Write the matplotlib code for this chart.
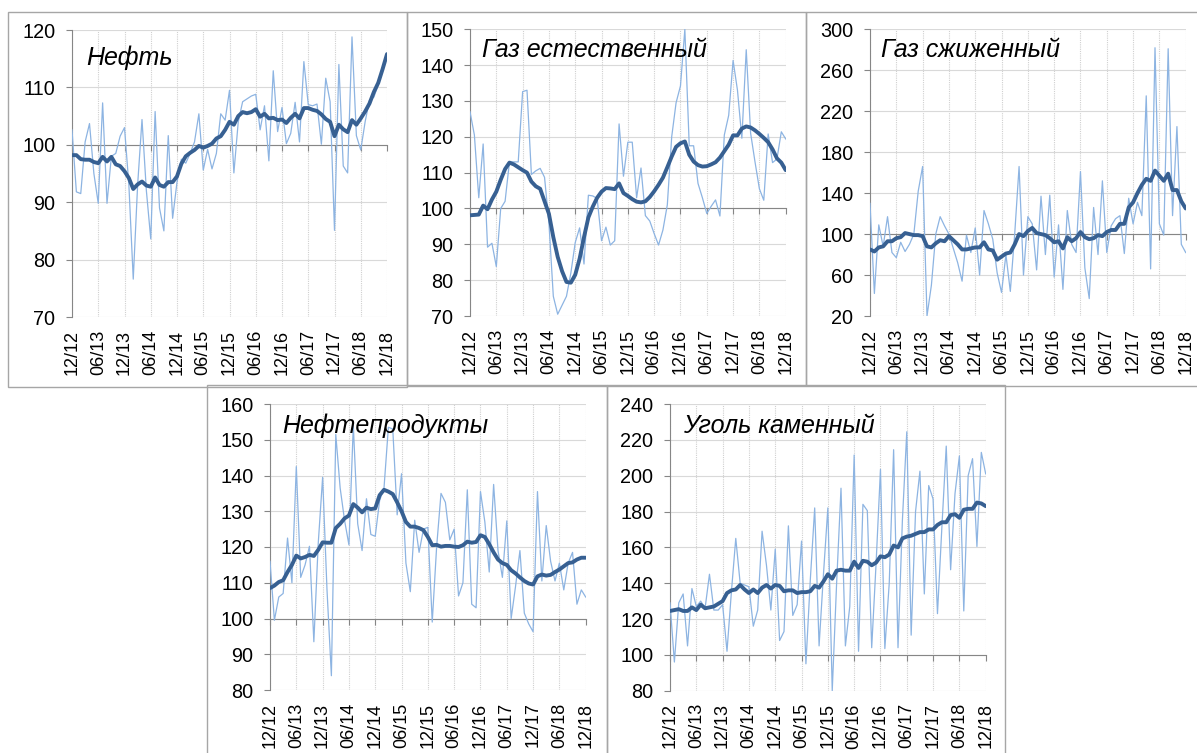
import matplotlib
matplotlib.use("Agg")
import matplotlib.pyplot as plt
from matplotlib.patches import Rectangle

plt.rcParams['font.family'] = ['Liberation Sans', 'DejaVu Sans']

W, H = 1197, 753

# ось X: помесячно с 12/2012 по 12/2018
months = list(range(73))
tick_pos = list(range(0, 73, 6))
tick_labels = ["12/12", "06/13", "12/13", "06/14", "12/14", "06/15", "12/15",
               "06/16", "12/16", "06/17", "12/17", "06/18", "12/18"]

# Нефть
neft_raw = [102.6, 91.8, 91.5, 100.5, 103.7, 95.0, 89.8, 107.3, 89.8, 98.0,
            98.5, 101.5, 103.0, 93.0, 76.6, 93.0, 104.4, 92.0, 83.6, 105.8,
            89.0, 85.0, 101.6, 87.2, 93.5, 97.5, 96.8, 98.5, 100.5, 105.4,
            95.6, 99.2, 95.8, 98.5, 105.4, 104.3, 109.5, 95.1, 104.0, 107.5,
            108.0, 108.5, 108.8, 102.6, 106.8, 97.2, 112.9, 102.3, 106.5, 100.2,
            102.0, 107.4, 100.5, 114.5, 107.0, 106.8, 107.1, 100.1, 111.6, 107.5,
            85.1, 114.0, 96.3, 95.1, 118.8, 101.6, 99.1, 104.0, 107.8, 108.3,
            110.5, 113.0, 115.8]
neft_trend = [98.2, 98.2, 97.5, 97.4, 97.4, 97.0, 96.8, 97.9, 97.1, 97.9,
              96.6, 96.3, 95.4, 94.2, 92.3, 93.1, 93.6, 92.9, 92.7, 94.3,
              93.0, 92.7, 93.5, 93.5, 94.5, 96.7, 98.0, 98.6, 99.1, 99.8,
              99.5, 99.8, 100.2, 101.1, 101.5, 102.6, 104.0, 103.5, 105.0, 105.7,
              105.5, 105.7, 106.2, 104.9, 105.4, 104.6, 104.7, 104.3, 104.4, 103.8,
              104.7, 105.4, 104.6, 106.4, 106.4, 106.1, 105.9, 105.3, 104.5, 104.0,
              101.5, 103.5, 102.7, 102.2, 104.3, 103.5, 104.6, 105.8, 107.2, 109.2,
              110.8, 113.2, 115.8]

# Газ естественный
gas_raw = [127.0, 120.5, 103.0, 118.0, 89.2, 90.3, 83.8, 100.0, 102.0, 113.0,
           113.0, 113.0, 132.6, 133.0, 109.5, 110.5, 111.2, 108.7, 96.0, 75.5,
           70.5, 73.0, 75.5, 82.0, 90.5, 94.6, 84.5, 103.7, 103.5, 102.8,
           91.0, 94.8, 89.8, 91.0, 123.6, 109.0, 118.5, 118.5, 103.0, 111.3,
           98.0, 96.5, 93.0, 89.8, 94.0, 101.0, 120.0, 129.5, 134.2, 150.0,
           117.5, 117.5, 107.0, 103.0, 98.6, 100.6, 102.4, 97.9, 120.5, 126.0,
           141.3, 133.0, 119.6, 144.3, 121.0, 113.0, 105.5, 102.3, 120.8, 112.8,
           113.8, 121.4, 119.4]
gas_trend = [98.1, 98.2, 98.3, 100.8, 99.8, 102.5, 104.7, 108.0, 111.0, 112.8,
             112.3, 111.5, 110.7, 110.0, 107.5, 106.2, 105.5, 102.0, 98.5, 92.0,
             86.5, 82.5, 79.5, 79.3, 81.5, 86.0, 92.0, 97.5, 100.5, 103.0,
             104.7, 105.7, 105.6, 105.4, 107.0, 104.3, 103.5, 102.6, 101.9, 101.7,
             102.0, 103.2, 104.8, 106.6, 108.6, 111.5, 114.5, 117.2, 118.2, 118.7,
             115.0, 113.1, 112.1, 111.7, 111.8, 112.3, 112.9, 114.2, 116.0, 117.8,
             120.4, 120.4, 122.3, 122.9, 122.6, 121.8, 120.8, 119.7, 118.5, 116.5,
             114.0, 112.8, 110.7]

# Газ сжиженный
lng_raw = [130, 42, 109, 88, 117, 82, 77, 92, 83, 90,
           100, 142, 166, 20, 50, 100, 117, 108, 100, 86,
           72, 54, 99, 82, 106, 60, 123, 110, 95, 62,
           43, 80, 44, 100, 166, 60, 117, 110, 65, 137,
           80, 138, 58, 109, 46, 123, 90, 82, 161, 67,
           37, 126, 80, 152, 82, 108, 115, 118, 81, 135,
           110, 131, 118, 235, 66, 282, 110, 99, 281, 118,
           205, 90, 82]
lng_trend = [85, 83, 87, 88, 93, 93, 96, 97, 101, 100,
             99, 99, 98, 88, 87, 91, 94, 93, 98, 94,
             90, 85, 85, 86, 87, 87, 92, 85, 84, 75,
             78, 81, 82, 90, 100, 98, 103, 106, 101, 100,
             99, 96, 92, 93, 86, 97, 93, 96, 102, 97,
             95, 96, 99, 98, 102, 104, 104, 110, 110, 126,
             131, 140, 148, 154, 152, 162, 157, 152, 159, 143,
             143, 132, 125]

# Нефтепродукты
oilprod_raw = [116.0, 99.5, 106.0, 107.0, 122.5, 110.0, 142.5, 111.5, 115.0, 120.2,
               93.5, 121.0, 139.5, 108.0, 84.0, 151.5, 136.5, 127.5, 120.6, 154.0,
               126.5, 119.0, 133.5, 123.5, 123.0, 133.0, 136.5, 153.5, 153.0, 129.0,
               140.5, 115.5, 107.5, 127.5, 118.5, 125.0, 125.5, 99.0, 120.0, 135.0,
               132.5, 122.0, 125.0, 106.3, 110.0, 136.0, 104.0, 103.0, 135.5, 127.0,
               113.0, 137.5, 119.0, 111.5, 127.3, 100.0, 109.0, 119.0, 101.5, 98.5,
               96.3, 135.5, 110.5, 126.0, 116.0, 110.5, 115.5, 108.0, 115.5, 118.5,
               104.0, 108.0, 106.0]
oilprod_trend = [108.5, 109.2, 110.2, 110.7, 113.0, 115.0, 117.6, 116.8, 117.2, 117.8,
                 117.5, 119.2, 121.3, 121.2, 121.2, 125.3, 126.5, 128.0, 128.8, 132.0,
                 131.0, 129.7, 131.0, 130.6, 130.8, 134.5, 136.0, 135.5, 134.8, 132.5,
                 130.0, 127.0, 125.7, 125.7, 125.3, 124.7, 122.8, 120.5, 120.6, 120.1,
                 120.3, 120.3, 120.1, 120.0, 120.5, 121.5, 121.2, 121.4, 123.3, 122.8,
                 120.8, 118.5, 116.5, 115.5, 115.0, 113.5, 112.6, 111.5, 110.5, 109.8,
                 109.5, 111.8, 112.3, 112.0, 112.2, 113.0, 113.7, 114.6, 115.5, 115.7,
                 116.5, 117.0, 117.0]

# Уголь каменный
coal_raw = [129, 96, 129, 134, 105, 137, 127, 130, 126, 145,
            125, 125, 128, 102, 135, 165, 140, 139, 138, 116,
            125, 169, 150, 125, 159, 108, 113, 172, 122, 128,
            163.5, 95, 142, 182, 105, 145, 182, 80, 140, 193,
            105, 127, 211.5, 102, 184, 180.5, 104, 151, 203.5, 103.5,
            140, 214.5, 104, 175, 224.5, 111, 180, 202.5, 134, 194.5,
            187, 123, 171, 216.5, 147.5, 190, 211, 124.5, 200, 209.5,
            160.5, 213, 201]
coal_trend = [124.5, 125.0, 125.5, 124.5, 124.5, 126.5, 125.0, 128.0, 126.0, 126.5,
              127.0, 128.5, 130.0, 134.5, 136.0, 136.5, 139.0, 136.5, 134.5, 136.5,
              134.5, 137.5, 139.0, 137.0, 139.0, 138.5, 135.5, 136.0, 136.0, 134.5,
              135.0, 135.0, 135.5, 138.5, 137.5, 141.0, 145.0, 142.5, 147.0, 147.5,
              147.0, 147.0, 152.0, 148.5, 152.5, 152.0, 150.0, 151.5, 155.0, 154.5,
              156.0, 161.0, 160.0, 165.0, 166.0, 166.5, 167.5, 168.5, 168.5, 170.0,
              170.0, 172.5, 174.0, 174.0, 178.0, 178.5, 176.5, 181.0, 181.5, 181.5,
              185.0, 184.5, 183.0]

# (название, факт, тренд, yticks, область графика px, подпись px, рамка px)
panels = [
    ("Нефть", neft_raw, neft_trend, range(70, 121, 10),
     (72, 387, 30, 317), (86, 65), (8, 407, 12, 387)),
    ("Газ естественный", gas_raw, gas_trend, range(70, 151, 10),
     (470, 785.7, 29.3, 316), (482, 57), (407, 806, 12, 386)),
    ("Газ сжиженный", lng_raw, lng_trend, range(20, 301, 40),
     (870, 1185.7, 29.3, 316), (881, 57), (806, 1200, 12, 386)),
    ("Нефтепродукты", oilprod_raw, oilprod_trend, range(80, 161, 10),
     (270, 585.7, 404, 690), (282, 433), (207, 607, 385, 760)),
    ("Уголь каменный", coal_raw, coal_trend, range(80, 241, 20),
     (670, 985.7, 404, 690.7), (683, 433), (607, 1005, 385, 760)),
]

fig = plt.figure(figsize=(W / 100, H / 100), dpi=100)

for title, raw, trend, yticks, (l, r, t, b), (tx, ty), (fl, fr, ft, fb) in panels:
    # рамка вокруг каждого графика
    fig.add_artist(Rectangle((fl / W, 1 - fb / H), (fr - fl) / W, (fb - ft) / H,
                             transform=fig.transFigure, fill=False,
                             edgecolor='#A6A6A6', lw=1.0))

    ax = fig.add_axes([l / W, 1 - b / H, (r - l) / W, (b - t) / H])
    ax.plot(months, raw, color='#8DB4E2', lw=0.9, zorder=3)
    ax.plot(months, trend, color='#376092', lw=2.8, zorder=4,
            solid_joinstyle='round', solid_capstyle='round')

    yt = list(yticks)
    ax.set_xlim(0, 72)
    ax.set_ylim(yt[0], yt[-1])
    ax.set_yticks(yt)

    ax.grid(axis='y', color='#D9D9D9', lw=0.8)
    ax.grid(axis='x', color='#D0D0D0', lw=0.8, linestyle=(0, (1, 1)))
    ax.set_axisbelow(True)

    for s in ['top', 'right']:
        ax.spines[s].set_visible(False)
    ax.spines['left'].set_color('#868686')
    # ось X пересекает ось Y на уровне 100
    ax.spines['bottom'].set_position(('data', 100))
    ax.spines['bottom'].set_color('#868686')
    ax.spines['bottom'].set_zorder(2)

    ax.set_xticks(tick_pos)
    ax.tick_params(axis='x', direction='out', length=4, color='#868686',
                   labelbottom=False)
    ax.tick_params(axis='y', direction='out', length=4, color='#868686',
                   labelsize=14.3, pad=8)

    sec = ax.secondary_xaxis(0)
    sec.set_xticks(tick_pos, labels=tick_labels, rotation=90)
    sec.tick_params(length=0, pad=9, labelsize=13)
    sec.spines['bottom'].set_visible(False)

    ax.text((tx - l) / (r - l), (b - ty) / (b - t), title, transform=ax.transAxes,
            fontsize=18, style='italic', va='baseline', ha='left', zorder=6)

fig.savefig("out.png", dpi=100)
